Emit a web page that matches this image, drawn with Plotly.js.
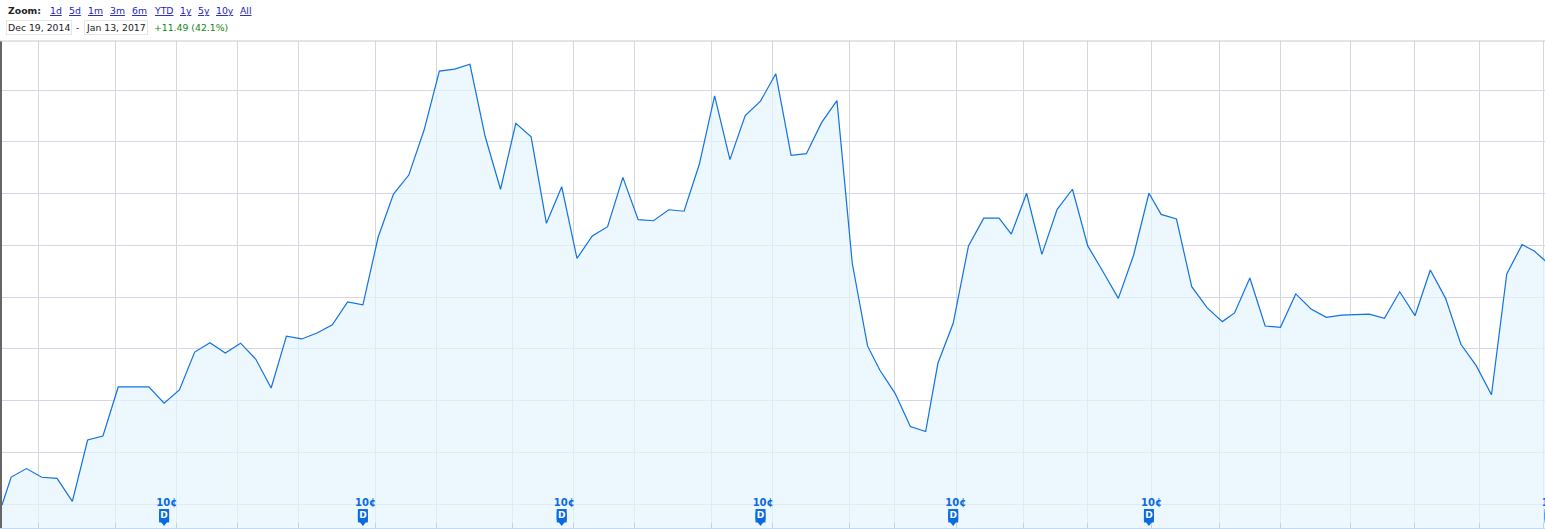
<!DOCTYPE html>
<html>
<head>
<meta charset="utf-8">
<script src="https://cdn.plot.ly/plotly-3.0.1.min.js"></script>
<style>html,body{margin:0;padding:0;background:#fff;overflow:hidden}</style>
</head>
<body>
<div id="chart" style="width:1545px;height:529px"></div>
<script>
// trading days since Dec 19, 2014 (weekly closes; short steps are holiday weeks)
const tradingDays = [0,3,8,13,18,23,28,33,38,43,48,53,58,63,68,73,78,83,88,93,98,103,108,113,118,123,128,133,138,143,148,153,158,163,168,173,178,183,188,193,198,203,208,213,218,223,228,233,238,243,248,253,258,263,268,273,278,283,287,292,297,302,306,311,316,321,326,330,335,340,345,350,355,360,365,370,375,379,384,389,394,399,403,408,413,418,423,428,433,438,443,447,452,457,462,467,472,477,482,487,492,497,501,505];
const closePrices = [27.29,28.61,29.01,28.60,28.55,27.46,30.36,30.55,32.87,32.87,32.88,32.10,32.73,34.52,34.96,34.48,34.94,34.18,32.82,35.27,35.14,35.42,35.81,36.89,36.75,39.96,41.99,42.89,45.02,47.81,47.90,48.13,44.70,42.22,45.34,44.70,40.61,42.34,38.95,40.01,40.45,42.78,40.78,40.73,41.25,41.18,43.40,46.64,43.62,45.70,46.39,47.68,43.82,43.90,45.38,46.41,38.72,34.81,33.67,32.57,31.00,30.76,33.99,35.88,39.54,40.85,40.85,40.10,42.03,39.14,41.27,42.22,39.54,38.32,37.06,39.11,42.03,41.03,40.81,37.61,36.62,35.96,36.37,38.02,35.75,35.69,37.27,36.56,36.16,36.27,36.29,36.31,36.12,37.37,36.24,38.40,37.06,34.89,33.88,32.50,38.21,39.60,39.30,38.78];
const dividendDays = [53,118,183,248,311,375,506];
const dividendLabels = ['10¢','10¢','10¢','10¢','10¢','10¢','10¢'];
const monthTicks = [11.9,37.0,57.0,76.9,96.9,122.0,142.0,166.8,186.8,206.7,231.9,251.8,277.0,291.7,312.0,333.9,354.8,375.7,398.0,417.9,440.8,461.7,483.0,504.1];
const priceTicks = [27.33,29.78,32.24,34.70,37.12,39.57,42.03,44.49,46.90];
const zoomLabels = ['1d','5d','1m','3m','6m','YTD','1y','5y','10y','All'];
const zoomLefts = [49,68,87,109,131,152.5,179,197,215,238.5];
const startDate = 'Dec 19, 2014';
const endDate = 'Jan 13, 2017';
const changeText = '+11.49 (42.1%)';

const W = 1545, H = 529, L = 2, T = 41, B = 1;
const px = v => (v - L) / (W - L);
const py = v => (H - B - v) / (H - B - T);
const font = 'DejaVu Sans, Verdana, sans-serif';
const blue = '#0a6ae0';

const text = (t, left, mid, color, extra) => Object.assign({
  text: t, xref: 'paper', yref: 'paper', x: px(left), y: py(mid),
  xanchor: 'left', yanchor: 'middle', showarrow: false, borderpad: 0,
  font: {family: font, size: 9.3, color: color}
}, extra || {});

const annotations = [
  text('<b>Zoom:</b>', 6.5, 10.5, '#222222'),
  text('-', 75, 27.5, '#222222'),
  text(startDate, 5.5, 27.5, '#222222', {bordercolor: '#e6e6e6', borderwidth: 1, borderpad: 1}),
  text(endDate, 84, 27.5, '#222222', {bordercolor: '#e6e6e6', borderwidth: 1, borderpad: 1}),
  text(changeText, 152.5, 27.5, '#118811')
].concat(zoomLabels.map((z, i) => text(z, zoomLefts[i], 10.5, '#2222bb',
  {font: {family: font, size: 9.3, color: '#2222bb', lineposition: 'under'}})));

const traces = [
  {x: tradingDays, y: closePrices, type: 'scatter', mode: 'lines', fill: 'tozeroy',
   fillcolor: 'rgba(228,243,254,0.7)', line: {color: '#1272e0', width: 1.2}, hoverinfo: 'x+y'},
  {x: dividendDays, y: dividendDays.map(() => 26.86), type: 'scatter', mode: 'markers',
   marker: {symbol: 'square', size: 10, color: blue, line: {width: 0}}, hoverinfo: 'skip'},
  {x: dividendDays, y: dividendDays.map(() => 26.70), type: 'scatter', mode: 'markers',
   marker: {symbol: 'square', size: 10, color: blue, line: {width: 0}}, hoverinfo: 'skip'},
  {x: dividendDays, y: dividendDays.map(() => 26.51), type: 'scatter', mode: 'markers',
   marker: {symbol: 'triangle-down', size: 9, color: blue, line: {width: 0}}, hoverinfo: 'skip'},
  {x: dividendDays, y: dividendDays.map(() => 26.78), type: 'scatter', mode: 'text',
   text: dividendDays.map(() => 'D'), textposition: 'middle center',
   textfont: {family: font, size: 9, color: '#ffffff', weight: 'bold'}, hoverinfo: 'skip'},
  {x: dividendDays.map(d => d + 0.85), y: dividendDays.map(() => 27.38), type: 'scatter', mode: 'text',
   text: dividendLabels, textposition: 'middle center',
   textfont: {family: font, size: 10, color: blue, weight: 'bold'}, hoverinfo: 'skip'}
];

Plotly.newPlot('chart', traces, {
  width: W, height: H, autosize: false, showlegend: false,
  margin: {l: L, r: 0, t: T, b: B, pad: 0},
  paper_bgcolor: '#ffffff', plot_bgcolor: '#ffffff',
  xaxis: {range: [0, 504.5], tickmode: 'array', tickvals: monthTicks, showticklabels: false,
    ticks: 'inside', ticklen: 5, tickwidth: 1, tickcolor: '#808080',
    showgrid: true, gridcolor: '#d4d9d4', gridwidth: 1, zeroline: false,
    showline: true, linecolor: '#bfdcf8', linewidth: 1, layer: 'below traces'},
  yaxis: {range: [26.20, 49.23], tickmode: 'array', tickvals: priceTicks, showticklabels: false,
    ticks: '', showgrid: true, gridcolor: '#d6d6ea', gridwidth: 1, zeroline: false,
    showline: true, linecolor: '#666666', linewidth: 2},
  shapes: [{type: 'line', xref: 'paper', yref: 'paper', x0: -0.002, x1: 1, y0: 1, y1: 1,
    line: {color: '#c8c8c8', width: 1}}],
  annotations: annotations
}, {displayModeBar: false, responsive: false});
</script>
</body>
</html>
